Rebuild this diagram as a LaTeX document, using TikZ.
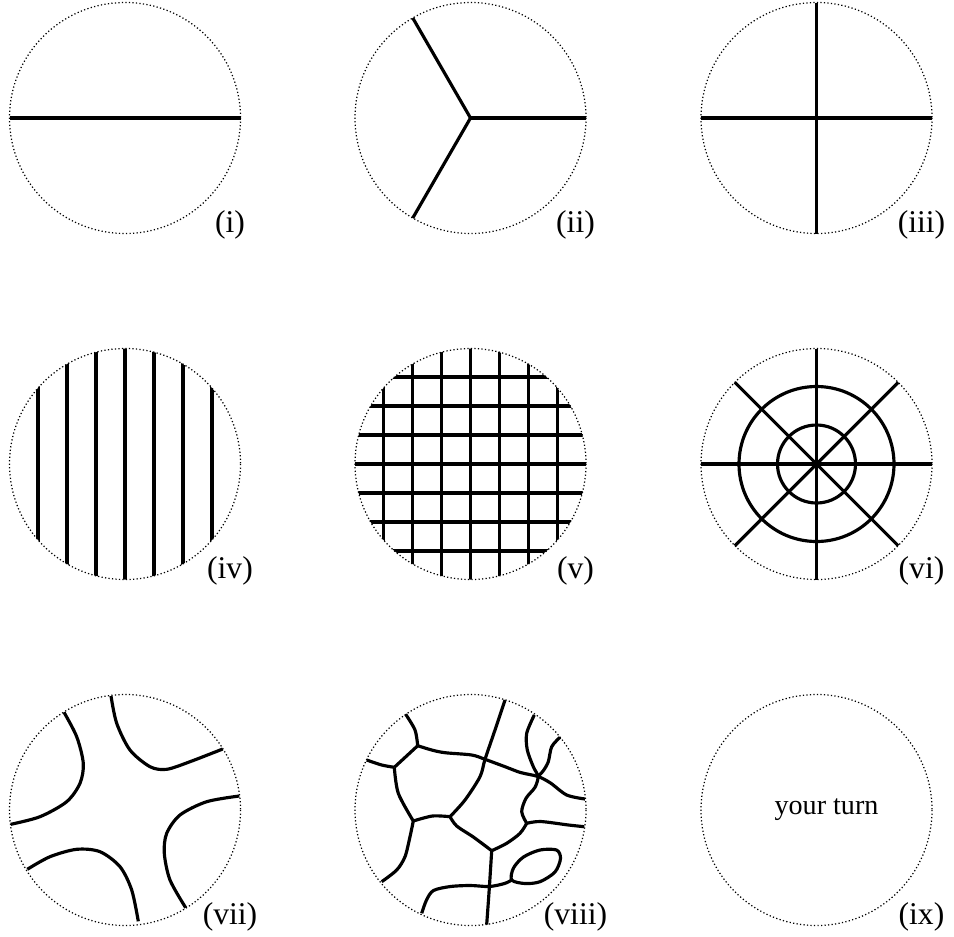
\documentclass[tikz,border=0pt]{standalone}
\usepackage{fontspec}
\setmainfont{Liberation Serif}
\begin{document}
\begin{tikzpicture}[x=0.02cm, y=-0.02cm,
  rim/.style={line width=0.7pt, dash pattern=on 0.7pt off 1.3pt},
  cut/.style={line width=1.8pt, line join=round},
  tag/.style={inner sep=0pt, font=\fontsize{18}{21}\selectfont}]
\useasboundingbox (0,0) rectangle (954,937);
% dotted discs and their labels
\foreach \cx/\cy/\lab [count=\i] in {125/118/i, 470.5/118/ii, 816.5/118/iii,
    125/464/iv, 470.5/464/v, 816.5/464/vi, 125/810/vii, 470.5/810/viii, 816.5/810/ix} {
  \draw[rim] (\cx,\cy) circle[radius=115.5];
  \node[tag] (tag\i) at (\cx+105,\cy+107) {(\lab)};
}
% (i) one diameter
\begin{scope}[shift={(125,118)}]
  \draw[cut] (180:115.5) -- (0:115.5);
\end{scope}
% (ii) three rays
\begin{scope}[shift={(470.5,118)}]
  \foreach \a in {0,120,240} \draw[cut] (0,0) -- (\a:115.5);
\end{scope}
% (iii) cross
\begin{scope}[shift={(816.5,118)}]
  \draw[cut] (180:115.5) -- (0:115.5) (90:115.5) -- (270:115.5);
\end{scope}
% (iv) parallel chords
\begin{scope}[shift={(125,464)}]
  \clip (0,0) circle[radius=115.5];
  \foreach \k in {-3,...,3} \draw[cut] (\k*29,-120) -- (\k*29,120);
\end{scope}
% (v) grid
\begin{scope}[shift={(470.5,464)}]
  \clip (0,0) circle[radius=115.5];
  \foreach \k in {-3,...,3} {
    \draw[cut] (\k*29,-120) -- (\k*29,120);
    \draw[cut] (-120,\k*29) -- (120,\k*29);
  }
\end{scope}
% (vi) rings and spokes
\begin{scope}[shift={(816.5,464)}]
  \draw[cut] (0,0) circle[radius=39] (0,0) circle[radius=77.5];
  \foreach \a in {0,45,...,315} \draw[cut] (0,0) -- (\a:115.5);
\end{scope}
% (vii) four bent arcs
\begin{scope}[shift={(125,810)}]
  \draw[cut] plot[smooth] coordinates {(-61,-97.7) (-48.3,-73.3) (-41.7,-46.7) (-45,-26.7) (-58.3,-8.3) (-85,6.7) (-114.3,14.3)};
  \draw[cut] plot[smooth] coordinates {(-14,-114) (-8.3,-86.7) (5,-60) (25,-43.3) (41.7,-40.7) (65,-48.3) (97.7,-61)};
  \draw[cut] plot[smooth] coordinates {(114.3,-14) (81.7,-8.3) (55,5) (41.7,23.3) (39.3,43.3) (45,70) (60.7,97.7)};
  \draw[cut] plot[smooth] coordinates {(-97.7,59.3) (-75,46.7) (-48.3,39.3) (-25,41.7) (-5,56.7) (6.7,80) (13.3,111.3)};
\end{scope}
% (viii) irregular network
\begin{scope}[shift={(470.5,810)}]
  \draw[cut] plot[smooth] coordinates {(-64.8,-95.7) (-55.5,-80) (-52.8,-64.3)};
  \draw[cut] plot[smooth] coordinates {(-103.8,-50) (-88.8,-45) (-76.2,-42.7)};
  \draw[cut] plot[smooth] coordinates {(-52.8,-64.3) (-65,-53) (-76.2,-42.7)};
  \draw[cut] plot[smooth] coordinates {(-76.2,-42.7) (-72.2,-16.7) (-57.2,11)};
  \draw[cut] plot[smooth] coordinates {(-57.2,11) (-60.5,26.7) (-65.5,46.7) (-73.8,60) (-88.8,71.7)};
  \draw[cut] plot[smooth] coordinates {(-57.2,11) (-38,6) (-20.5,6.7)};
  \draw[cut] plot[smooth] coordinates {(-20.5,6.7) (-5.5,-10) (9.5,-33.3) (14.5,-50.7) (24.5,-80) (34.5,-110)};
  \draw[cut] plot[smooth] coordinates {(-20.5,6.7) (-13.8,16) (2.8,27) (21.2,40.7)};
  \draw[cut] plot[smooth] coordinates {(21.2,40.7) (18.8,78.3) (16.2,114.5)};
  \draw[cut] plot[smooth] coordinates {(21.2,40.7) (36.2,33.3) (49.5,23.3) (56.2,13.3)};
  \draw[cut] plot[smooth] coordinates {(56.2,13.3) (70,11.5) (98,15) (113.8,16.7)};
  \draw[cut] plot[smooth] coordinates {(56.2,13.3) (51.2,1.7) (55.5,-11.7) (64.5,-22.7) (67.5,-33.5) (62.8,-43.3) (56.8,-60) (56.2,-76.7) (63.8,-95)};
  \draw[cut] plot[smooth] coordinates {(89.5,-72.7) (81.2,-63.3) (77.8,-48.3) (72.8,-39.3) (67.5,-33.5)};
  \draw[cut] plot[smooth] coordinates {(-52.8,-64.3) (-38.8,-60) (-25.5,-57.3) (1.2,-55) (14.5,-50.7) (34.5,-43.3) (50,-37.5) (67.5,-33.5) (80,-27) (96.2,-15) (114.5,-11)};
  \draw[cut] plot[smooth] coordinates {(-48.8,103.3) (-44,90) (-37,80.5) (-20,76.5) (0,75.5) (18.8,76.5) (34,73.5) (41.2,70)};
  \draw[cut] plot[smooth cycle] coordinates {(41.2,70) (43,58) (53,47) (69.5,40) (86,40) (90,48.5) (84.5,62) (69.5,71.7) (54.5,73.5)};
\end{scope}
% (ix) empty
\node[font=\fontsize{16}{19}\selectfont] (turn) at (826.5,810) {your turn};
\end{tikzpicture}
\end{document}
